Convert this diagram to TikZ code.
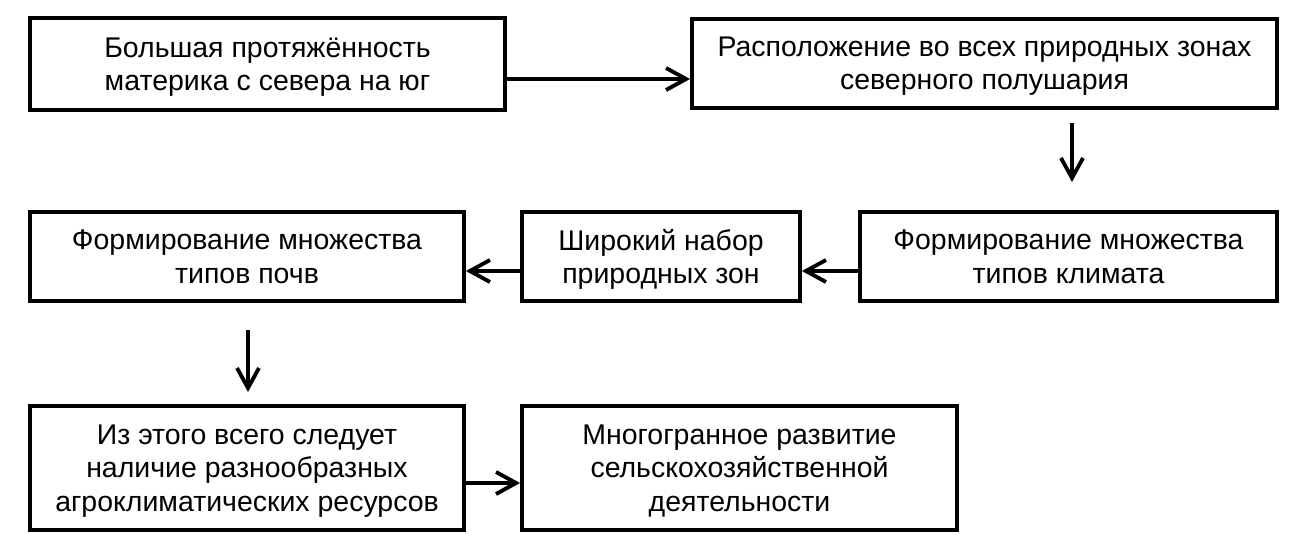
\documentclass[tikz,border=0pt]{standalone}
\usepackage{fontspec}
\setmainfont{Liberation Sans}
\usepackage{tikz}
\usetikzlibrary{arrows.meta, positioning}

\begin{document}
\begin{tikzpicture}[
	box/.style={draw, line width=2.2pt, align=center, inner sep=0pt,
		text depth=-2pt, font=\fontsize{16.2}{19}\selectfont},
	arr/.style={line width=2.2pt, -{Straight Barb[length=4mm,width=4.4mm]}}
	]
	% Canvas
	\useasboundingbox (0,0) rectangle (26,-11.08);
	
	% Draw the boxes, top row
	\node[box, minimum width=9.5cm, minimum height=1.84cm] (ext) at (5.35,-1.28)
		{Большая протяжённость\\материка с севера на юг};
	\node[box, minimum width=11.7cm, minimum height=1.78cm] (zones) at (19.69,-1.27)
		{Расположение во всех природных зонах\\северного полушария};
	
	% Middle row
	\node[box, minimum width=8.34cm, minimum height=1.78cm] (clim) at (21.37,-5.13)
		{Формирование множества\\типов климата};
	\node[box, minimum width=5.56cm, minimum height=1.78cm] (set) at (13.22,-5.13)
		{Широкий набор\\природных зон};
	\node[box, minimum width=8.68cm, minimum height=1.78cm] (soil) at (4.94,-5.13)
		{Формирование множества\\типов почв};
	
	% Bottom row
	\node[box, minimum width=8.68cm, minimum height=2.48cm] (res) at (4.94,-9.36)
		{Из этого всего следует\\наличие разнообразных\\агроклиматических ресурсов};
	\node[box, minimum width=8.7cm, minimum height=2.48cm] (agri) at (14.79,-9.36)
		{Многогранное развитие\\сельскохозяйственной\\деятельности};
	
	% Free ends of the two vertical arrows
	\coordinate (down1a) at (21.44,-2.46);
	\coordinate (down1b) at (21.44,-3.64);
	\coordinate (down2a) at (4.96,-6.6);
	\coordinate (down2b) at (4.96,-7.84);
	
	% Draw the arrows
	\draw[arr] ([yshift=-3mm]ext.east) -- ([yshift=-3mm]ext.east -| zones.west);
	\draw[arr] (down1a) -- (down1b);
	\draw[arr] ([yshift=-2.9mm]clim.west) -- ([yshift=-2.9mm]clim.west -| set.east);
	\draw[arr] ([yshift=-2.9mm]set.west) -- ([yshift=-2.9mm]set.west -| soil.east);
	\draw[arr] (down2a) -- (down2b);
	\draw[arr] ([yshift=-3mm]res.east) -- ([yshift=-3mm]res.east -| agri.west);
\end{tikzpicture}
\end{document}
